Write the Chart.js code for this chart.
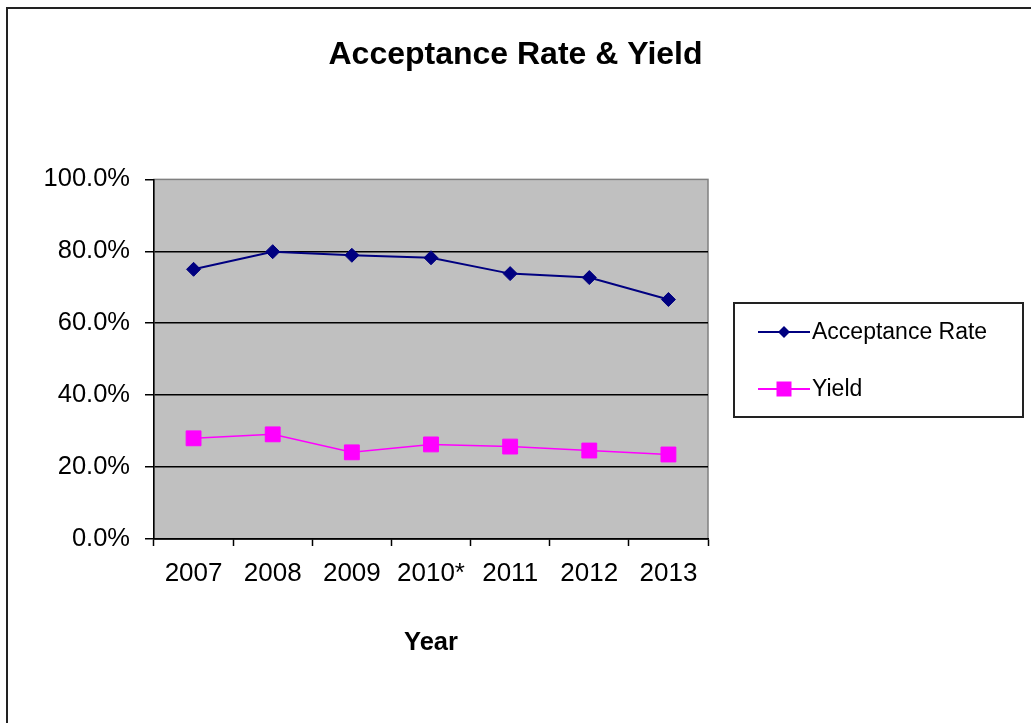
<!DOCTYPE html>
<html>
<head>
<meta charset="utf-8">
<title>Acceptance Rate & Yield</title>
<script src="https://cdn.jsdelivr.net/npm/chart.js@4.4.1/dist/chart.umd.min.js"></script>
<style>
  html, body { margin: 0; padding: 0; background: #fff; }
  #wrap { width: 1031px; height: 723px; }
</style>
</head>
<body>
<div id="wrap"><canvas id="chart"></canvas></div>
<script>
// values (percent)
const years = ['2007', '2008', '2009', '2010*', '2011', '2012', '2013'];
const acceptanceRate = [75.0, 79.9, 78.9, 78.2, 73.8, 72.7, 66.6];
const yieldRate = [28.0, 29.1, 24.1, 26.3, 25.7, 24.6, 23.5];
const yTicks = [0, 20, 40, 60, 80, 100];

const FONT = "'Liberation Sans', Arial, sans-serif";

// grey plot area with a thin grey frame, plus the chart's outer frame
const plotBackground = {
    id: 'plotBackground',
    beforeDraw(chart) {
        const { ctx, chartArea: a } = chart;
        ctx.save();
        ctx.fillStyle = '#C0C0C0';
        ctx.fillRect(a.left, a.top, a.right - a.left, a.bottom - a.top);
        ctx.strokeStyle = '#808080';
        ctx.lineWidth = 1.5;
        ctx.strokeRect(a.left, a.top, a.right - a.left, a.bottom - a.top);

        // outer frame, only left and top show in the picture
        ctx.strokeStyle = '#222';
        ctx.lineWidth = 2;
        ctx.beginPath();
        ctx.moveTo(7, chart.height);
        ctx.lineTo(7, 8);
        ctx.lineTo(chart.width, 8);
        ctx.stroke();
        ctx.restore();
    }
};

function drawMarker(ctx, style, x, y, r) {
    ctx.beginPath();
    if (style === 'rectRot') {
        ctx.moveTo(x, y - r);
        ctx.lineTo(x + r, y);
        ctx.lineTo(x, y + r);
        ctx.lineTo(x - r, y);
        ctx.closePath();
    } else {
        ctx.rect(x - r, y - r, 2 * r, 2 * r);
    }
    ctx.fill();
}

// boxed legend at the right, like the original
const boxLegend = {
    id: 'boxLegend',
    afterDraw(chart) {
        const ctx = chart.ctx;
        const box = { x: 734, y: 303, w: 289, h: 114 };
        ctx.save();
        ctx.fillStyle = '#fff';
        ctx.fillRect(box.x, box.y, box.w, box.h);
        ctx.strokeStyle = '#222';
        ctx.lineWidth = 2;
        ctx.strokeRect(box.x, box.y, box.w, box.h);

        ctx.font = '23px ' + FONT;
        ctx.textBaseline = 'middle';
        ctx.textAlign = 'left';
        chart.data.datasets.forEach((ds, i) => {
            const y = 332 + i * 57;
            ctx.strokeStyle = ds.borderColor;
            ctx.lineWidth = 2;
            ctx.beginPath();
            ctx.moveTo(758, y);
            ctx.lineTo(810, y);
            ctx.stroke();
            ctx.fillStyle = ds.pointBackgroundColor;
            drawMarker(ctx, ds.pointStyle, 784, y, ds.pointStyle === 'rectRot' ? 6 : 7.5);
            ctx.fillStyle = '#000';
            ctx.fillText(ds.label, 812, y + 1);
        });
        ctx.restore();
    }
};

new Chart(document.getElementById('chart'), {
    type: 'line',
    data: {
        labels: years,
        datasets: [
            {
                label: 'Acceptance Rate',
                data: acceptanceRate,
                borderColor: '#000080',
                backgroundColor: '#000080',
                pointBackgroundColor: '#000080',
                pointBorderColor: '#000080',
                borderWidth: 2,
                pointStyle: 'rectRot',
                pointRadius: 7,
                pointBorderWidth: 1,
                tension: 0
            },
            {
                label: 'Yield',
                data: yieldRate,
                borderColor: '#FF00FF',
                backgroundColor: '#FF00FF',
                pointBackgroundColor: '#FF00FF',
                pointBorderColor: '#FF00FF',
                borderWidth: 1.5,
                pointStyle: 'rect',
                pointRadius: 10.5,
                pointBorderWidth: 1,
                tension: 0
            }
        ]
    },
    options: {
        responsive: true,
        maintainAspectRatio: false,
        animation: false,
        layout: { padding: 0 },
        plugins: {
            legend: { display: false },
            tooltip: { enabled: false },
            title: {
                display: true,
                text: 'Acceptance Rate & Yield',
                color: '#000',
                font: { family: FONT, size: 32, weight: 'bold' },
                padding: { top: 36, bottom: 105 }
            }
        },
        scales: {
            x: {
                offset: true,
                afterFit(scale) { scale.height = 184; },
                grid: {
                    offset: true,
                    drawOnChartArea: false,
                    drawTicks: true,
                    tickLength: 7,
                    tickColor: '#000',
                    tickWidth: 1.5
                },
                border: { color: '#000', width: 1.5 },
                ticks: {
                    color: '#000',
                    padding: 12,
                    maxRotation: 0,
                    font: { family: FONT, size: 26 }
                },
                title: {
                    display: true,
                    text: 'Year',
                    color: '#000',
                    font: { family: FONT, size: 25.5, weight: 'bold' },
                    padding: { top: 0, bottom: 65 }
                }
            },
            y: {
                min: 0,
                max: 100,
                afterFit(scale) { scale.width = 154; },
                afterBuildTicks(scale) { scale.ticks = yTicks.map(v => ({ value: v })); },
                grid: {
                    color: ctx => (ctx.tick && ctx.tick.value === 100) ? 'rgba(0,0,0,0)' : '#000',
                    lineWidth: 1.5,
                    tickLength: 9,
                    tickColor: '#000',
                    tickWidth: 1.5
                },
                border: { color: '#000', width: 1.5 },
                ticks: {
                    color: '#000',
                    padding: 15,
                    font: { family: FONT, size: 25.5 },
                    callback: v => v.toFixed(1) + '%'
                }
            },
            // empty right-hand axis that only reserves room for the legend box
            spacer: {
                type: 'linear',
                position: 'right',
                min: 0,
                max: 100,
                afterFit(scale) { scale.width = 323; },
                grid: { display: false },
                border: { display: false },
                ticks: { display: false }
            }
        }
    },
    plugins: [plotBackground, boxLegend]
});
</script>
</body>
</html>
